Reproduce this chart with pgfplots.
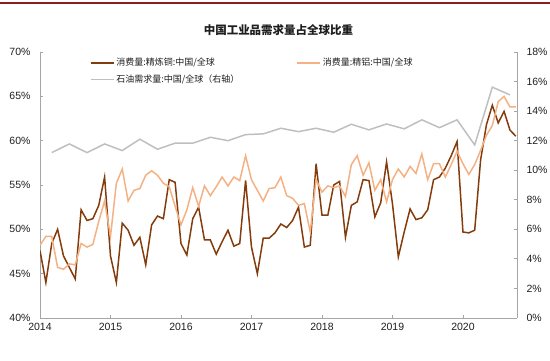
\documentclass[border=0pt]{standalone}
\usepackage{pgfplots}
\pgfplotsset{compat=1.18}
\usepackage{fontspec}
\setmainfont{Liberation Sans}
\newfontfamily\cjk{Noto Sans CJK SC}
\definecolor{copperc}{RGB}{132,60,12}
\definecolor{aluc}{RGB}{244,177,131}
\definecolor{oilc}{RGB}{191,191,191}
\definecolor{axisgray}{RGB}{166,166,166}
\definecolor{hdr}{RGB}{140,30,30}
\definecolor{lbl}{RGB}{30,30,30}
\begin{document}
\begin{tikzpicture}[x=1pt,y=1pt]
\path[use as bounding box] (0,0) rectangle (550,361);
\draw[hdr, line width=1.5pt] (0,358) -- (550,358);
\node[font=\cjk\bfseries\fontsize{11.5}{13}\selectfont, text=lbl] at (278.5,331) {中国工业品需求量占全球比重};
\begin{axis}[
  at={(40pt,43pt)}, anchor=south west,
  width=477pt, height=266pt, scale only axis,
  xmin=0, xmax=81.2, ymin=40, ymax=70,
  axis x line*=bottom, axis y line*=left,
  axis line style={draw=axisgray, line width=0.8pt},
  tick style={draw=axisgray, line width=0.8pt},
  tick align=inside, major tick length=3pt,
  xtick={0,12,...,72},
  xticklabels={2014,2015,2016,2017,2018,2019,2020},
  ytick={40,45,...,70},
  yticklabel={\pgfmathprintnumber{\tick}\%},
  /pgf/number format/assume math mode=true,
  ticklabel style={font=\fontsize{10.5}{12}\selectfont, text=lbl},
  yticklabel style={xshift=-6pt},
  xticklabel style={yshift=-2pt},
  legend columns=2,
  legend cell align=left,
  legend style={at={(0.098,0.992)}, anchor=north west, draw=none, fill=none,
    font=\cjk\fontsize{9}{11}\selectfont, text=lbl,
    /tikz/every even column/.append style={column sep=55pt},
    row sep=3.5pt},
  legend image code/.code={\draw[#1] (0pt,0pt) -- (23pt,0pt);},
]
\addplot[copperc, line width=1.5pt] coordinates {
(0,47.6)(1,44.0)(2,48.4)(3,50.0)(4,47.0)(5,45.7)(6,44.4)(7,52.2)(8,51.0)(9,51.2)
(10,52.7)(11,55.9)(12,47.0)(13,44.0)(14,50.7)(15,49.9)(16,48.2)(17,49.1)(18,46.0)(19,50.5)
(20,51.5)(21,51.2)(22,55.6)(23,55.3)(24,48.4)(25,47.1)(26,51.2)(27,52.5)(28,48.8)(29,48.8)
(30,47.2)(31,48.6)(32,49.9)(33,48.1)(34,48.4)(35,55.5)(36,48.0)(37,45.0)(38,49.0)(39,49.0)
(40,49.6)(41,50.6)(42,50.2)(43,51.0)(44,52.5)(45,48.0)(46,48.2)(47,57.4)(48,51.6)(49,51.6)
(50,55.0)(51,55.4)(52,49.1)(53,52.7)(54,53.1)(55,55.6)(56,55.5)(57,51.4)(58,53.0)(59,57.6)
(60,52.9)(61,46.9)(62,49.7)(63,52.3)(64,51.1)(65,51.3)(66,52.2)(67,55.6)(68,55.9)(69,56.9)
(70,58.3)(71,59.9)(72,49.7)(73,49.6)(74,49.9)(75,57.8)(76,61.8)(77,64.0)(78,62.0)(79,63.3)
(80,61.2)(81,60.5)};
\addlegendentry{消费量:精炼铜:中国/全球}
\addplot[aluc, line width=1.5pt] coordinates {
(0,48.2)(1,49.2)(2,49.2)(3,45.7)(4,45.5)(5,46.1)(6,46.0)(7,48.4)(8,48.0)(9,48.3)
(10,50.9)(11,53.2)(12,49.2)(13,55.2)(14,56.8)(15,53.2)(16,54.4)(17,54.6)(18,56.1)(19,56.6)
(20,56.1)(21,55.2)(22,54.8)(23,52.6)(24,50.5)(25,52.2)(26,54.7)(27,52.6)(28,54.9)(29,53.8)
(30,54.8)(31,55.9)(32,54.9)(33,55.9)(34,55.5)(35,58.3)(36,55.6)(37,54.4)(38,53.2)(39,54.6)
(40,54.7)(41,55.9)(42,53.8)(43,53.5)(44,52.7)(45,52.9)(46,49.7)(47,55.6)(48,54.2)(49,54.9)
(50,54.7)(51,54.9)(52,53.7)(53,57.3)(54,58.3)(55,56.1)(56,57.5)(57,54.4)(58,55.6)(59,53.1)
(60,55.6)(61,56.8)(62,55.9)(63,57.1)(64,56.3)(65,58.5)(66,55.6)(67,57.4)(68,57.4)(69,55.9)
(70,57.3)(71,58.8)(72,57.4)(73,56.2)(74,57.3)(75,58.9)(76,60.6)(77,61.7)(78,64.4)(79,65.0)
(80,63.8)(81,63.8)};
\addlegendentry{消费量:精铝:中国/全球}
\addlegendimage{oilc, line width=1.5pt}
\addlegendentry{石油需求量:中国/全球（右轴）}
\end{axis}
\begin{axis}[
  at={(40pt,43pt)}, anchor=south west,
  width=477pt, height=266pt, scale only axis,
  xmin=0, xmax=81.2, ymin=0, ymax=18,
  axis x line=none, axis y line*=right,
  axis line style={draw=axisgray, line width=0.8pt},
  tick style={draw=axisgray, line width=0.8pt},
  tick align=inside, major tick length=3pt,
  ytick={0,2,...,18},
  yticklabel={\pgfmathprintnumber{\tick}\%},
  /pgf/number format/assume math mode=true,
  ticklabel style={font=\fontsize{10.5}{12}\selectfont, text=lbl},
  yticklabel style={xshift=6pt},
]
\addplot[oilc, line width=1.5pt] coordinates {
(2,11.19)(5,11.78)(8,11.19)(11,11.78)(14,11.33)(17,12.10)(20,11.42)(23,11.83)
(26,11.83)(29,12.23)(32,12.00)(35,12.41)(38,12.46)(41,12.84)(44,12.61)(47,12.84)
(50,12.57)(53,13.11)(56,12.73)(59,13.13)(62,12.80)(65,13.41)(68,12.88)(71,13.41)
(74,11.71)(77,15.62)(80,15.10)};
\end{axis}
\end{tikzpicture}
\end{document}
